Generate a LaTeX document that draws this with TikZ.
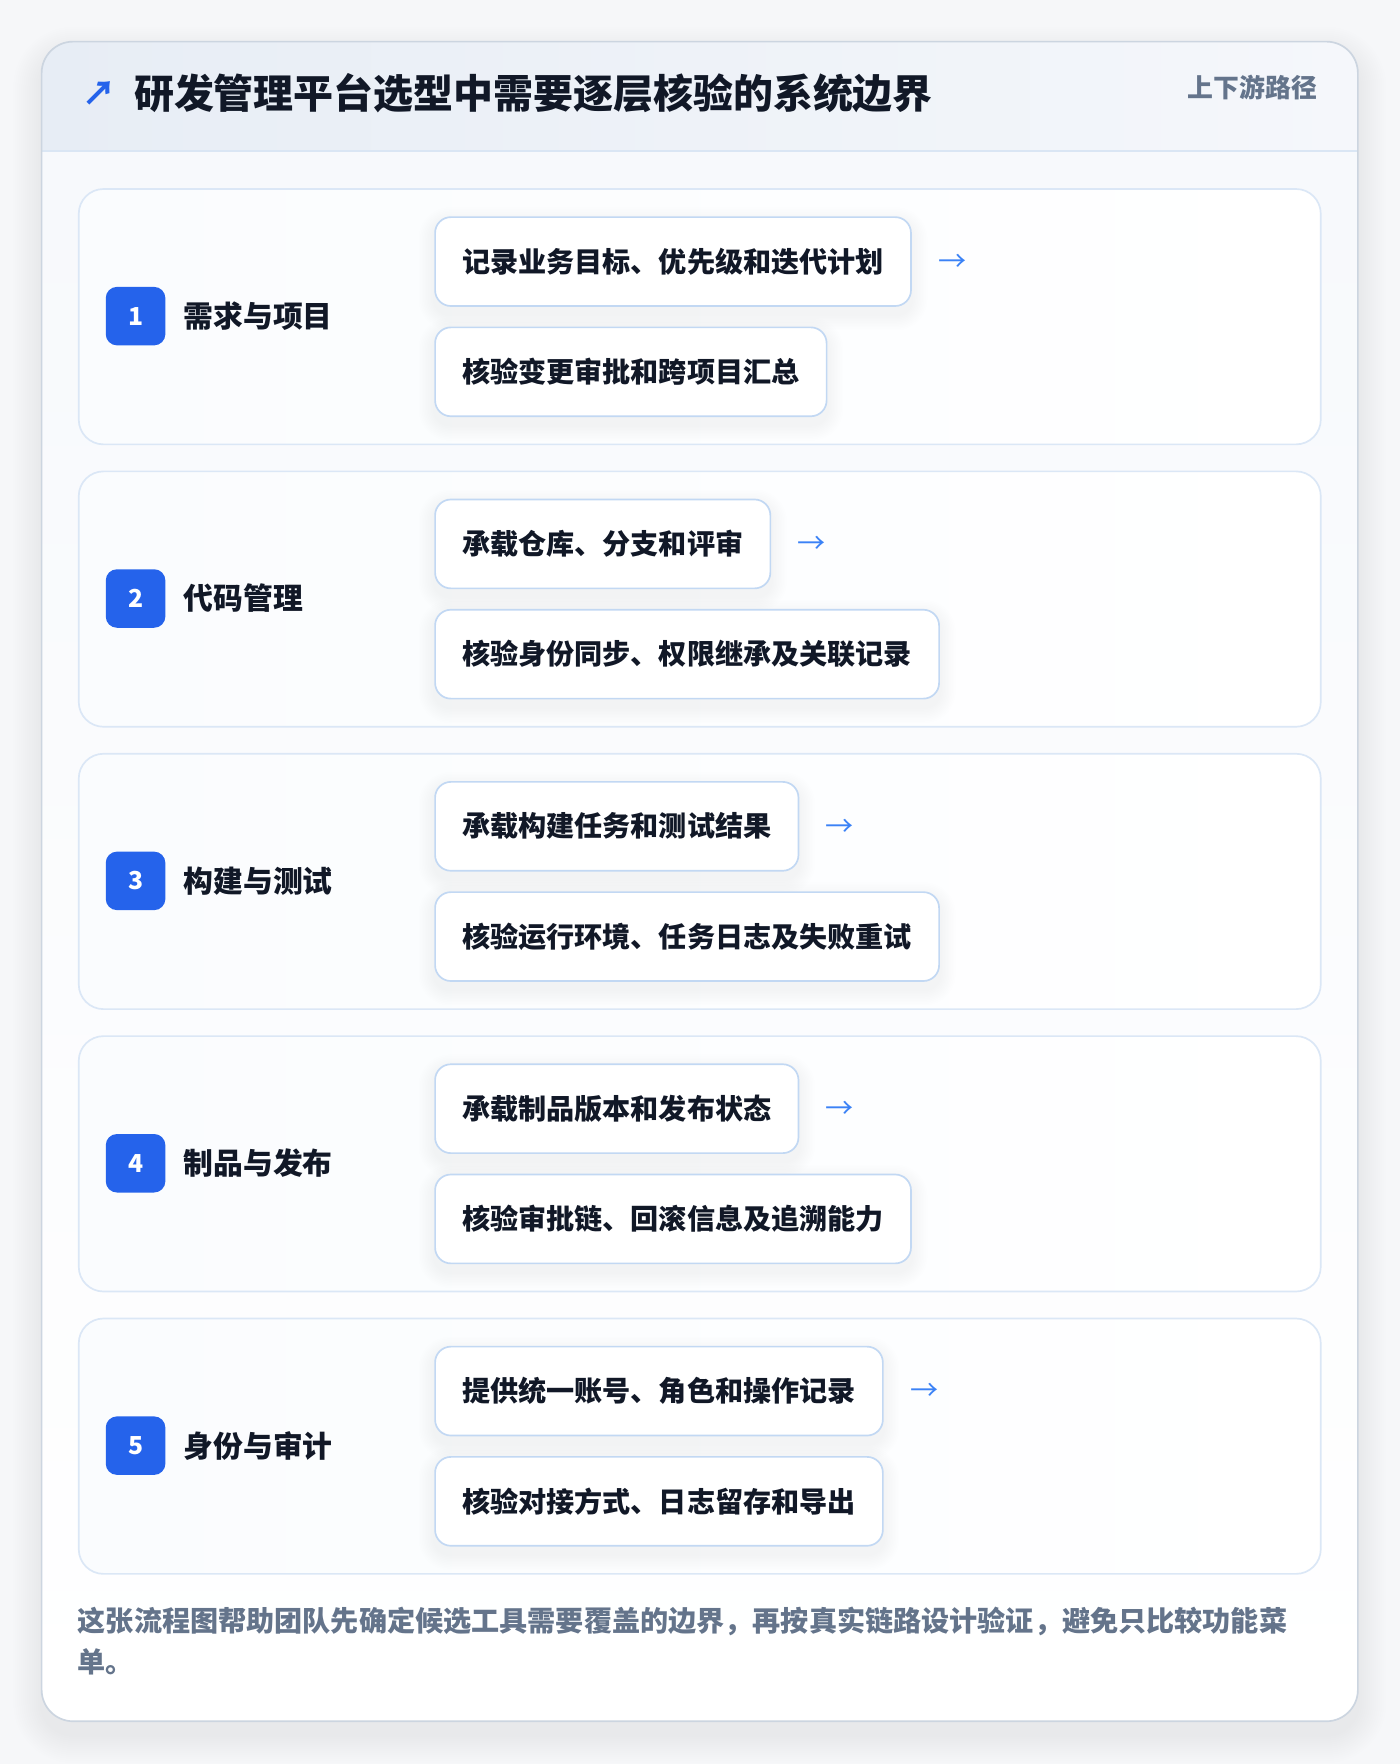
\documentclass[tikz,border=0pt]{standalone}
\usepackage{fontspec}
\setmainfont{Noto Sans CJK SC}
\definecolor{pagebg}{HTML}{F6F7F9}
\definecolor{cardborder}{HTML}{CCD5E0}
\definecolor{headL}{HTML}{E7EDF5}
\definecolor{headR}{HTML}{F5F7FB}
\definecolor{headline}{HTML}{DAE6F4}
\definecolor{bodytop}{HTML}{F7F9FC}
\definecolor{secborder}{HTML}{DBE7F6}
\definecolor{secfill}{HTML}{FAFCFE}
\definecolor{stepborder}{HTML}{C2D8F3}
\definecolor{badgec}{HTML}{2563EB}
\definecolor{ink}{HTML}{111827}
\definecolor{muted}{HTML}{64748B}
\definecolor{arrowc}{HTML}{3B82F6}
\definecolor{shadowc}{HTML}{1E293B}
\pgfdeclarelayer{cardlayer}
\pgfdeclarelayer{seclayer}
\pgfdeclarelayer{shadowlayer}
\pgfsetlayers{cardlayer,seclayer,shadowlayer,main}
\tikzset{
  secbox/.style={draw=secborder, line width=1.5pt, rounded corners=22pt,
    left color=secfill, right color=white, minimum width=1104pt, minimum height=227pt, inner sep=0pt},
  stepbox/.style={draw=stepborder, line width=1.5pt, rounded corners=14pt, fill=white,
    minimum height=79pt, inner xsep=24pt, inner ysep=0pt, anchor=west, text=ink,
    font=\fontsize{25}{30}\selectfont\bfseries},
  badgebox/.style={fill=badgec, rounded corners=10pt, minimum width=53pt, minimum height=52pt,
    inner sep=0pt, text=white, font=\fontsize{22}{24}\selectfont\bfseries},
  seclabel/.style={anchor=west, inner sep=0pt, text=ink, font=\fontsize{26.5}{30}\selectfont\bfseries},
  arrowtxt/.style={inner sep=0pt, text=arrowc, font=\fontsize{25}{30}\selectfont},
  shadowlayerstyle/.style={fill=shadowc, fill opacity=0.0045},
}
\begin{document}
\begin{tikzpicture}[x=1pt, y=-1pt]
\useasboundingbox (0,0) rectangle (1244,1568);
\begin{pgfonlayer}{cardlayer}
\fill[pagebg] (0,0) rectangle (1244,1568);
% card soft shadow
\foreach \k in {1,...,14}{
  \fill[fill=shadowc, fill opacity=0.0045, rounded corners=28pt+1.8*\k]
    (37-1.8*\k,37-1.8*\k+12) rectangle (1207+1.8*\k,1530+1.8*\k+12);
}
\begin{scope}
  \clip[rounded corners=28pt] (37,37) rectangle (1207,1530);
  \fill[left color=headL, right color=headR] (37,37) rectangle (1207,134);
  \fill[top color=bodytop, bottom color=white] (37,134) rectangle (1207,1530);
\end{scope}
\draw[headline, line width=1.5pt] (37,134) -- (1207,134);
\draw[cardborder, line width=1.5pt, rounded corners=28pt] (37,37) rectangle (1207,1530);
\end{pgfonlayer}
% header
\node[inner sep=0pt, text=badgec, font=\fontsize{30}{32}\selectfont\bfseries] (titlearrow) at (88,83) {↗};
\node[anchor=west, inner sep=0pt, text=ink, font=\fontsize{35.5}{40}\selectfont\bfseries] (title) at (119,83) {研发管理平台选型中需要逐层核验的系统边界};
\node[anchor=east, inner sep=0pt, text=muted, font=\fontsize{23}{26}\selectfont\bfseries] (tag) at (1171,78) {上下游路径};
% sections
\foreach \i/\lab/\ta/\tb in {
  1/需求与项目/记录业务目标、优先级和迭代计划/核验变更审批和跨项目汇总,
  2/代码管理/承载仓库、分支和评审/核验身份同步、权限继承及关联记录,
  3/构建与测试/承载构建任务和测试结果/核验运行环境、任务日志及失败重试,
  4/制品与发布/承载制品版本和发布状态/核验审批链、回滚信息及追溯能力,
  5/身份与审计/提供统一账号、角色和操作记录/核验对接方式、日志留存和导出}{
  \pgfmathsetmacro{\top}{168+251*(\i-1)}
  \begin{pgfonlayer}{seclayer}
    \node[secbox] (sec\i) at (622,\top+113.5) {};
  \end{pgfonlayer}
  \node[badgebox] (badge\i) at (120.5,\top+113) {\i};
  \node[seclabel] (lab\i) at (163,\top+113) {\lab};
  \node[stepbox] (sa\i) at (386,\top+64.5) {\ta};
  \node[stepbox] (sb\i) at (386,\top+162.5) {\tb};
  \node[arrowtxt] (arr\i) at ([xshift=36pt,yshift=-1pt]sa\i.east) {→};
  \begin{pgfonlayer}{shadowlayer}
    \foreach \n in {sa\i,sb\i}{
      \foreach \k in {1,...,10}{
        \fill[shadowlayerstyle, rounded corners=14pt+1.4*\k]
          ([xshift=-1.4*\k pt, yshift=1.4*\k pt-6pt]\n.north west) rectangle
          ([xshift=1.4*\k pt, yshift=-1.4*\k pt-7pt]\n.south east);
      }
    }
  \end{pgfonlayer}
}
% footer
\node[anchor=west, inner sep=0pt, text=muted, font=\fontsize{25}{30}\selectfont\bfseries] (foot1) at (69,1441) {这张流程图帮助团队先确定候选工具需要覆盖的边界，再按真实链路设计验证，避免只比较功能菜};
\node[anchor=west, inner sep=0pt, text=muted, font=\fontsize{25}{30}\selectfont\bfseries] (foot2) at (69,1477) {单。};
\end{tikzpicture}
\end{document}
